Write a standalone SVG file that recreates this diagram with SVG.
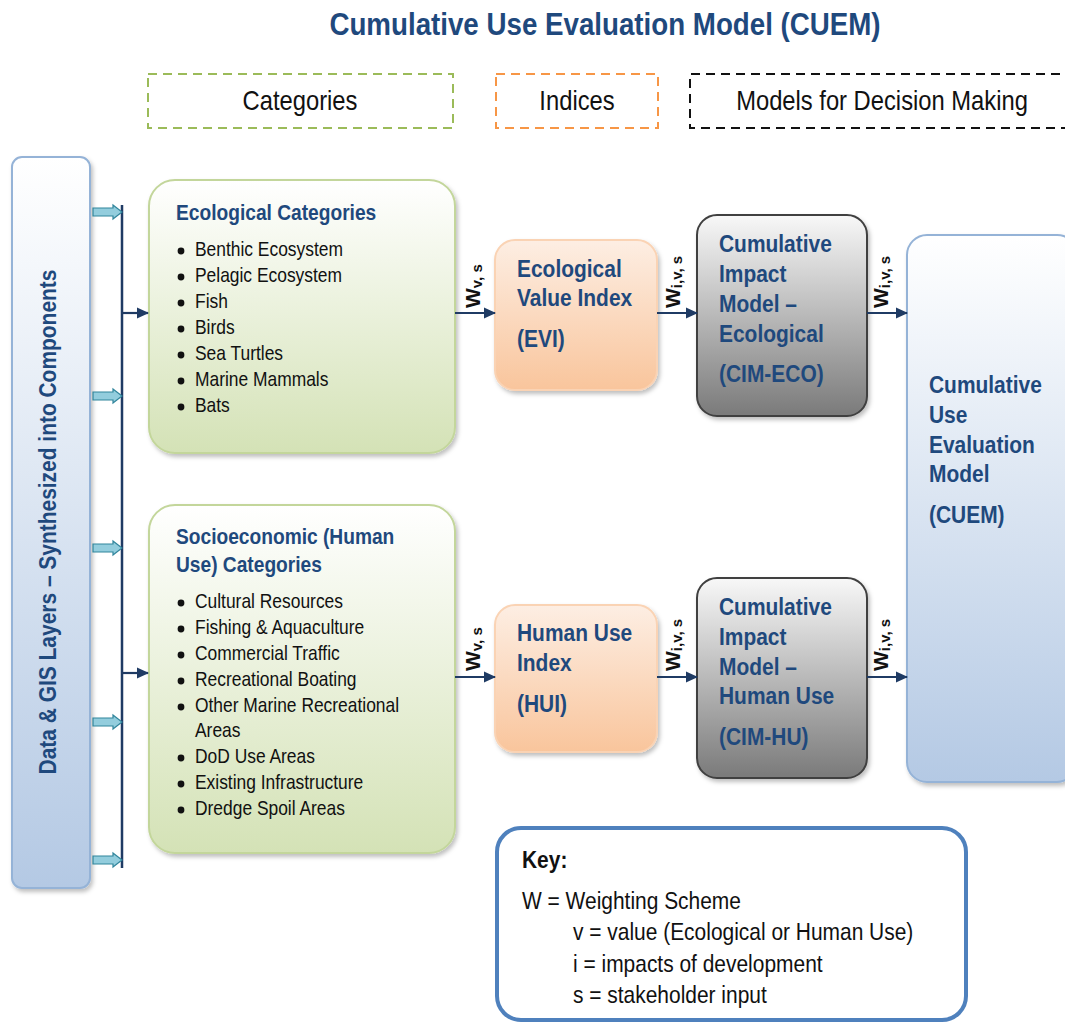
<svg xmlns="http://www.w3.org/2000/svg" width="1065" height="1024" viewBox="0 0 1065 1024">
<defs>
<linearGradient id="gBlue" x1="0" y1="0" x2="0" y2="1"><stop offset="0" stop-color="#ffffff"/><stop offset="1" stop-color="#b4c9e4"/></linearGradient>
<linearGradient id="gGreen" x1="0" y1="0" x2="0" y2="1"><stop offset="0" stop-color="#ffffff"/><stop offset="1" stop-color="#d4e2b6"/></linearGradient>
<linearGradient id="gOrange" x1="0" y1="0" x2="0" y2="1"><stop offset="0" stop-color="#fdeee3"/><stop offset="1" stop-color="#f9c59c"/></linearGradient>
<linearGradient id="gGray" x1="0" y1="0" x2="0" y2="1"><stop offset="0" stop-color="#f8f8f8"/><stop offset="1" stop-color="#7a7a7a"/></linearGradient>
<filter id="sh" x="-10%" y="-10%" width="130%" height="130%"><feDropShadow dx="2" dy="3" stdDeviation="2" flood-color="#000" flood-opacity="0.25"/></filter>
<marker id="ah" markerWidth="12" markerHeight="12" refX="11" refY="6" orient="auto" markerUnits="userSpaceOnUse"><path d="M0,0.5 L12,6 L0,11.5 Z" fill="#1f3b64"/></marker>
<style>
text{font-family:"Liberation Sans",Arial,sans-serif}
.title{font-weight:bold;font-size:31.5px;fill:#1f497d}
.hdr{font-size:27px;fill:#111}
.bt{font-weight:bold;font-size:23.8px;fill:#1f497d}
.ct{font-weight:bold;font-size:21.8px;fill:#1f497d}
.li{font-size:19.8px;fill:#111}
.key{font-size:23.8px;fill:#111}
.w{font-weight:bold;font-size:21px;fill:#111}
.ws{font-size:15px}
.dot{fill:#111}
.conn{stroke:#1f3b64;stroke-width:2.2;fill:none}
.blk{fill:#93cddd;stroke:#31859c;stroke-width:1.2}
</style>
</defs>
<rect width="1065" height="1024" fill="#ffffff"/>

<text class="title" transform="translate(605,35) scale(0.88,1)" text-anchor="middle">Cumulative Use Evaluation Model (CUEM)</text>

<g id="hdr-categories">
<rect x="148" y="74" width="305" height="54" fill="none" stroke="#9bbb59" stroke-width="2" stroke-dasharray="9,6"/>
<text class="hdr" transform="translate(300,110) scale(0.88,1)" text-anchor="middle">Categories</text>
</g>
<g id="hdr-indices">
<rect x="496" y="74" width="162" height="54" fill="none" stroke="#f79646" stroke-width="2" stroke-dasharray="9,6"/>
<text class="hdr" transform="translate(577,110) scale(0.88,1)" text-anchor="middle">Indices</text>
</g>
<g id="hdr-models">
<path d="M1075,74 L690,74 L690,128 L1075,128" fill="none" stroke="#111" stroke-width="2" stroke-dasharray="9,6"/>
<text class="hdr" transform="translate(882,110) scale(0.88,1)" text-anchor="middle">Models for Decision Making</text>
</g>

<g id="data-gis">
<rect x="12" y="157" width="78" height="731" rx="10" fill="url(#gBlue)" stroke="#95b3d7" stroke-width="2" filter="url(#sh)"/>
<text class="bt" transform="translate(56,522) rotate(-90) scale(0.88,1)" text-anchor="middle">Data &amp; GIS Layers – Synthesized into Components</text>
</g>

<g id="eco-cat">
<rect x="149" y="180" width="306" height="273" rx="26" fill="url(#gGreen)" stroke="#c3d69b" stroke-width="2" filter="url(#sh)"/>
<text class="ct" transform="translate(176,220) scale(0.88,1)">Ecological Categories</text>
<circle class="dot" cx="181" cy="251" r="3.4"/><text class="li" transform="translate(195,256) scale(0.88,1)">Benthic Ecosystem</text>
<circle class="dot" cx="181" cy="277" r="3.4"/><text class="li" transform="translate(195,282) scale(0.88,1)">Pelagic Ecosystem</text>
<circle class="dot" cx="181" cy="303" r="3.4"/><text class="li" transform="translate(195,308) scale(0.88,1)">Fish</text>
<circle class="dot" cx="181" cy="329" r="3.4"/><text class="li" transform="translate(195,334) scale(0.88,1)">Birds</text>
<circle class="dot" cx="181" cy="355" r="3.4"/><text class="li" transform="translate(195,360) scale(0.88,1)">Sea Turtles</text>
<circle class="dot" cx="181" cy="381" r="3.4"/><text class="li" transform="translate(195,386) scale(0.88,1)">Marine Mammals</text>
<circle class="dot" cx="181" cy="407" r="3.4"/><text class="li" transform="translate(195,412) scale(0.88,1)">Bats</text>
</g>

<g id="socio-cat">
<rect x="149" y="505" width="306" height="348" rx="26" fill="url(#gGreen)" stroke="#c3d69b" stroke-width="2" filter="url(#sh)"/>
<text class="ct" transform="translate(176,544) scale(0.88,1)">Socioeconomic (Human</text>
<text class="ct" transform="translate(176,572) scale(0.88,1)">Use) Categories</text>
<circle class="dot" cx="181" cy="603" r="3.4"/><text class="li" transform="translate(195,608) scale(0.88,1)">Cultural Resources</text>
<circle class="dot" cx="181" cy="629" r="3.4"/><text class="li" transform="translate(195,634) scale(0.88,1)">Fishing &amp; Aquaculture</text>
<circle class="dot" cx="181" cy="655" r="3.4"/><text class="li" transform="translate(195,660) scale(0.88,1)">Commercial Traffic</text>
<circle class="dot" cx="181" cy="681" r="3.4"/><text class="li" transform="translate(195,686) scale(0.88,1)">Recreational Boating</text>
<circle class="dot" cx="181" cy="707" r="3.4"/><text class="li" transform="translate(195,712) scale(0.88,1)">Other Marine Recreational</text>
<text class="li" transform="translate(195,737) scale(0.88,1)">Areas</text>
<circle class="dot" cx="181" cy="758" r="3.4"/><text class="li" transform="translate(195,763) scale(0.88,1)">DoD Use Areas</text>
<circle class="dot" cx="181" cy="784" r="3.4"/><text class="li" transform="translate(195,789) scale(0.88,1)">Existing Infrastructure</text>
<circle class="dot" cx="181" cy="810" r="3.4"/><text class="li" transform="translate(195,815) scale(0.88,1)">Dredge Spoil Areas</text>
</g>

<g id="evi">
<rect x="495" y="240" width="162" height="150" rx="20" fill="url(#gOrange)" stroke="#fad3b4" stroke-width="2" filter="url(#sh)"/>
<text class="bt" transform="translate(517,277) scale(0.88,1)">Ecological</text>
<text class="bt" transform="translate(517,306) scale(0.88,1)">Value Index</text>
<text class="bt" transform="translate(517,347) scale(0.88,1)">(EVI)</text>
</g>

<g id="hui">
<rect x="495" y="605" width="162" height="147" rx="20" fill="url(#gOrange)" stroke="#fad3b4" stroke-width="2" filter="url(#sh)"/>
<text class="bt" transform="translate(517,641) scale(0.88,1)">Human Use</text>
<text class="bt" transform="translate(517,671) scale(0.88,1)">Index</text>
<text class="bt" transform="translate(517,712) scale(0.88,1)">(HUI)</text>
</g>

<g id="cim-eco">
<rect x="697" y="215" width="170" height="201" rx="20" fill="url(#gGray)" stroke="#404040" stroke-width="2" filter="url(#sh)"/>
<text class="bt" transform="translate(719,252) scale(0.88,1)">Cumulative</text>
<text class="bt" transform="translate(719,282) scale(0.88,1)">Impact</text>
<text class="bt" transform="translate(719,312) scale(0.88,1)">Model –</text>
<text class="bt" transform="translate(719,342) scale(0.88,1)">Ecological</text>
<text class="bt" transform="translate(719,382) scale(0.88,1)">(CIM-ECO)</text>
</g>

<g id="cim-hu">
<rect x="697" y="578" width="170" height="200" rx="20" fill="url(#gGray)" stroke="#404040" stroke-width="2" filter="url(#sh)"/>
<text class="bt" transform="translate(719,615) scale(0.88,1)">Cumulative</text>
<text class="bt" transform="translate(719,645) scale(0.88,1)">Impact</text>
<text class="bt" transform="translate(719,675) scale(0.88,1)">Model –</text>
<text class="bt" transform="translate(719,704) scale(0.88,1)">Human Use</text>
<text class="bt" transform="translate(719,745) scale(0.88,1)">(CIM-HU)</text>
</g>

<g id="cuem">
<rect x="907" y="235" width="170" height="547" rx="20" fill="url(#gBlue)" stroke="#95b3d7" stroke-width="2" filter="url(#sh)"/>
<text class="bt" transform="translate(929,393) scale(0.88,1)">Cumulative</text>
<text class="bt" transform="translate(929,423) scale(0.88,1)">Use</text>
<text class="bt" transform="translate(929,453) scale(0.88,1)">Evaluation</text>
<text class="bt" transform="translate(929,482) scale(0.88,1)">Model</text>
<text class="bt" transform="translate(929,523) scale(0.88,1)">(CUEM)</text>
</g>

<g id="key">
<rect x="497" y="828" width="469" height="192" rx="24" fill="#ffffff" stroke="#4f81bd" stroke-width="4"/>
<text class="key" transform="translate(522,868) scale(0.88,1)" font-weight="bold">Key:</text>
<text class="key" transform="translate(522,909) scale(0.88,1)">W = Weighting Scheme</text>
<text class="key" transform="translate(573,940) scale(0.88,1)">v = value (Ecological or Human Use)</text>
<text class="key" transform="translate(573,972) scale(0.88,1)">i = impacts of development</text>
<text class="key" transform="translate(573,1003) scale(0.88,1)">s = stakeholder input</text>
</g>

<g id="connectors">
<line class="conn" x1="122" y1="205" x2="122" y2="868" style="stroke-width:2.5"/>
<path class="blk" d="M93,208 H113 V205 L122,212 L113,219 V216 H93 Z"/>
<path class="blk" d="M93,392 H113 V389 L122,396 L113,403 V400 H93 Z"/>
<path class="blk" d="M93,544 H113 V541 L122,548 L113,555 V552 H93 Z"/>
<path class="blk" d="M93,718 H113 V715 L122,722 L113,729 V726 H93 Z"/>
<path class="blk" d="M93,856 H113 V853 L122,860 L113,867 V864 H93 Z"/>
<line class="conn" x1="122" y1="313" x2="148" y2="313" marker-end="url(#ah)"/>
<line class="conn" x1="122" y1="673" x2="148" y2="673" marker-end="url(#ah)"/>
<line class="conn" x1="455" y1="313" x2="495" y2="313" marker-end="url(#ah)"/>
<line class="conn" x1="657" y1="313" x2="697" y2="313" marker-end="url(#ah)"/>
<line class="conn" x1="867" y1="313" x2="907" y2="313" marker-end="url(#ah)"/>
<line class="conn" x1="455" y1="677" x2="495" y2="677" marker-end="url(#ah)"/>
<line class="conn" x1="657" y1="677" x2="697" y2="677" marker-end="url(#ah)"/>
<line class="conn" x1="867" y1="677" x2="907" y2="677" marker-end="url(#ah)"/>
<text class="w" transform="translate(480,308) rotate(-90)">W<tspan class="ws" dy="2">v, s</tspan></text>
<text class="w" transform="translate(680,308) rotate(-90)">W<tspan class="ws" dy="2">i,v, s</tspan></text>
<text class="w" transform="translate(888,308) rotate(-90)">W<tspan class="ws" dy="2">i,v, s</tspan></text>
<text class="w" transform="translate(480,671) rotate(-90)">W<tspan class="ws" dy="2">v, s</tspan></text>
<text class="w" transform="translate(680,671) rotate(-90)">W<tspan class="ws" dy="2">i,v, s</tspan></text>
<text class="w" transform="translate(888,671) rotate(-90)">W<tspan class="ws" dy="2">i,v, s</tspan></text>
</g>
</svg>
